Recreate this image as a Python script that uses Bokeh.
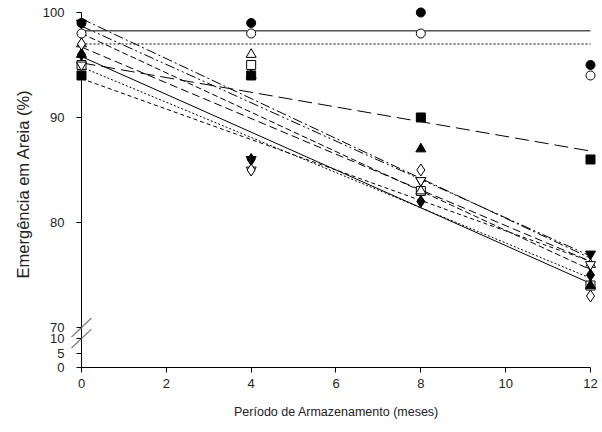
import numpy as np
from bokeh.plotting import figure
from bokeh.models import Range1d, FixedTicker
from bokeh.embed import file_html
from bokeh.resources import INLINE

# ---- data (storage period in months, sand emergence %) ----
months = [0, 4, 8, 12]
lot_filled_circle = [99, 99, 100, 95]
lot_open_circle = [98, 98, 98, 94]
lot_filled_tri_down = [99, 86, 84, 77]
lot_open_tri_down = [95, 85, 84, 76]
lot_filled_square = [94, 94, 90, 86]
lot_open_square = [95, 95, 83, 74]
lot_filled_diamond = [96, 86, 82, 75]
lot_open_diamond = [97, 85, 85, 73]
lot_filled_tri_up = [96, 94, 87, 74]
lot_open_tri_up = [97, 96, 83, 76]

x_ticks = [0, 2, 4, 6, 8, 10, 12]
y_ticks = [0, 5, 10, 70, 80, 90, 100]

# ---- broken y-axis transform ----
LOW_MAX, HIGH_MIN, HIGH_MAX = 10, 70, 100
LOW_SCALE, GAP = 0.276, 1.05


def ty(v):
    v = np.asarray(v, dtype=float)
    return np.where(v <= LOW_MAX, v * LOW_SCALE,
                    LOW_MAX * LOW_SCALE + GAP + (v - HIGH_MIN))


T_TOP = float(ty(HIGH_MAX))

# frame starts a little left of x=0 so markers at x=0 are not clipped
p = figure(width=602, height=432, output_backend="svg", toolbar_location=None,
           x_range=Range1d(-0.2593, 12.283), y_range=Range1d(0, 34.95),
           min_border_left=70, min_border_right=0, min_border_top=0,
           min_border_bottom=65)
p.outline_line_color = None
p.xgrid.grid_line_color = None
p.ygrid.grid_line_color = None
p.background_fill_color = "white"
p.border_fill_color = "white"

FONT = "Liberation Sans"

# x axis
xa = p.xaxis[0]
xa.bounds = (0, 12)
xa.ticker = FixedTicker(ticks=x_ticks)
xa.axis_label = "Período de Armazenamento (meses)"
# y axis (its ticks are shifted right so they meet the line at x = 0)
ya = p.yaxis[0]
tvals = [round(float(t), 4) for t in ty(y_ticks)]
ya.ticker = FixedTicker(ticks=tvals)
ya.major_label_overrides = {t: str(v) for t, v in zip(tvals, y_ticks)}
ya.axis_label = "Emergência em Areia (%)"

for ax in (xa, ya):
    ax.axis_line_color = "black"
    ax.axis_line_width = 1
    ax.major_tick_line_color = "black"
    ax.minor_tick_line_color = None
    ax.major_label_text_font = FONT
    ax.major_label_text_font_size = "13px"
    ax.major_label_text_color = "#222222"
    ax.axis_label_text_font = FONT
    ax.axis_label_text_font_style = "normal"
    ax.axis_label_text_color = "#222222"
xa.major_tick_out = 5
xa.major_tick_in = 0
ya.axis_line_color = None
ya.major_tick_in = 11
ya.major_tick_out = -6
xa.axis_label_text_font_size = "12.5px"
ya.axis_label_text_font_size = "16.5px"
xa.major_label_standoff = 6
xa.axis_label_standoff = 14
ya.major_label_standoff = 6
ya.axis_label_standoff = 8

# y axis line at x = 0
p.segment(x0=[0], y0=[0], x1=[0], y1=[T_TOP], line_color="black", line_width=1)

# break marks on y axis
bx = 0.235
bt = 0.9
t_lo, t_hi = float(ty(LOW_MAX)), float(ty(HIGH_MIN))
p.segment(x0=[-bx, -bx], y0=[t_lo - bt, t_hi - bt], x1=[bx, bx],
          y1=[t_lo + bt, t_hi + bt], line_color="#7a7a7a", line_width=1.2)

mx = np.array(months, dtype=float)
xs_line = np.array([0.0, 12.0])

# horizontal (mean) lines
for vals, dash in [(lot_filled_circle, "solid"), (lot_open_circle, "2 2")]:
    m = float(np.mean(vals))
    p.line(xs_line, ty([m, m]), line_color="black", line_width=1, line_dash=dash)

# regression lines
fits = [
    (lot_open_tri_up, "10 3 2 3"),
    (lot_filled_tri_up, "10 3 2 3 2 3"),
    (lot_filled_tri_down, "8 4"),
    (lot_open_square, "6 3"),
    (lot_open_diamond, "solid"),
    (lot_filled_diamond, "2 2"),
    (lot_open_tri_down, "4 3"),
    (lot_filled_square, "14 6"),
]
for vals, dash in fits:
    b, a = np.polyfit(mx, np.array(vals, dtype=float), 1)
    p.line(xs_line, ty(a + b * xs_line), line_color="black", line_width=1,
           line_dash=dash)

# markers
marks = [
    (lot_open_square, "square", "white", 9),
    (lot_open_tri_up, "triangle", "white", 10),
    (lot_filled_tri_up, "triangle", "black", 10),
    (lot_filled_tri_down, "inverted_triangle", "black", 10),
    (lot_open_tri_down, "inverted_triangle", "white", 10),
    (lot_filled_diamond, "diamond", "black", 12),
    (lot_open_diamond, "diamond", "white", 12),
    (lot_filled_square, "square", "black", 9),
    (lot_open_circle, "circle", "white", 9),
    (lot_filled_circle, "circle", "black", 9),
]
for vals, mk, fill, sz in marks:
    p.scatter(months, ty(vals), marker=mk, size=sz, fill_color=fill,
              line_color="black", line_width=1)

open("out.html", "w").write(file_html(p, INLINE))
